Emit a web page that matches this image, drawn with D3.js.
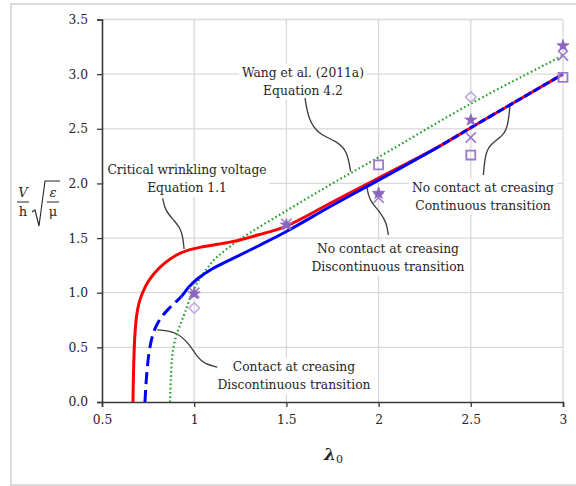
<!DOCTYPE html>
<html><head><meta charset="utf-8">
<script src="https://cdn.jsdelivr.net/npm/d3@7"></script>
<style>body{margin:0;background:#fff}svg{display:block}</style>
</head><body><svg id="c" width="576" height="486"></svg>
<script>
const xTicks=[0.5,1,1.5,2,2.5,3];
const yTicks=[0,0.5,1,1.5,2,2.5,3,3.5];
const redCurve=[[0.668,0],[0.670,0.2],[0.673,0.4],[0.678,0.6],[0.687,0.78],[0.70,0.9],[0.72,1.0],[0.75,1.1],[0.79,1.19],[0.84,1.27],[0.90,1.34],[0.96,1.385],[1.03,1.415],[1.1,1.435],[1.2,1.465],[1.35,1.53],[1.5,1.61],[1.75,1.83],[2,2.05],[2.33,2.34],[2.5,2.51],[3,3.0]];
const blueCurve=[[0.733,0],[0.738,0.15],[0.745,0.3],[0.755,0.45],[0.77,0.58],[0.79,0.68],[0.82,0.77],[0.86,0.85],[0.9,0.915],[0.93,0.965],[0.97,1.05],[1.02,1.13],[1.09,1.21],[1.2,1.305],[1.35,1.43],[1.5,1.56],[1.75,1.8],[2,2.03],[2.33,2.34],[2.5,2.51],[3,3.0]];
const blueBreaks=[0.93,2.33];
const greenCurve=[[0.869,0],[0.873,0.2],[0.88,0.4],[0.89,0.52],[0.905,0.62],[0.925,0.71],[0.95,0.82],[0.98,0.96],[1.013,1.08],[1.06,1.2],[1.12,1.32],[1.25,1.49],[1.5,1.75],[1.75,2.0],[2,2.24],[2.5,2.73],[3,3.17]];
const squarePts=[[2,2.17],[2.5,2.26],[3,2.97]];
const starPts=[[1,0.99],[1.5,1.62],[2,1.91],[2.5,2.58],[3,3.26]];
const crossPts=[[1,1.0],[1.5,1.63],[2,1.87],[2.5,2.42],[3,3.17]];
const diamondPts=[[1,0.86],[2.5,2.79]];
const noteText=[["Wang et al. (2011a)","Equation 4.2"],["Critical wrinkling voltage","Equation 1.1"],["No contact at creasing","Discontinuous transition"],["No contact at creasing","Continuous transition"],["Contact at creasing","Discontinuous transition"]];
const noteAnchor=[[1.59,3.01],[0.961,2.123],[2.051,1.40],[2.566,1.958],[1.541,0.32]];
const noteLeader=[
 [[1.601,2.78],[1.62,2.58],[1.675,2.45],[1.77,2.39],[1.83,2.3],[1.848,2.11]],
 [[0.829,1.864],[0.841,1.76],[0.884,1.67],[0.923,1.60],[0.939,1.51],[0.945,1.40]],
 [[2.053,1.528],[2.044,1.635],[2.008,1.741],[1.963,1.817],[1.944,1.894],[1.935,1.98]],
 [[2.568,2.077],[2.577,2.244],[2.595,2.336],[2.64,2.397],[2.685,2.458],[2.703,2.55],[2.713,2.72]],
 [[0.80,0.66],[0.907,0.645],[0.977,0.522],[1.015,0.412],[1.058,0.348],[1.125,0.32]]
];

const svg=d3.select("#c");
const L=102,R=563,T=19.5,B=402;
const x=d3.scaleLinear().domain([0.5,3]).range([L,R]);
const y=d3.scaleLinear().domain([0,3.5]).range([B,T]);
const serif="'DejaVu Serif', serif";

svg.append("rect").attr("x",11).attr("y",4).attr("width",620).attr("height",481)
  .attr("fill","#fff").attr("stroke","#dcdcdc").attr("stroke-width",2);

// clip regions for blue line styles
const defs=svg.append("defs");
const segs=[[0.4,blueBreaks[0]],[blueBreaks[0],blueBreaks[1]],[blueBreaks[1],3.2]];
segs.forEach((s,i)=>{
  defs.append("clipPath").attr("id","bc"+i).append("rect")
    .attr("x",x(s[0])).attr("y",0).attr("width",x(s[1])-x(s[0])).attr("height",486);
});

// grid
const g=svg.append("g");
g.selectAll(".hg").data(yTicks.slice(1)).join("line")
  .attr("x1",L).attr("x2",R).attr("y1",d=>y(d)).attr("y2",d=>y(d))
  .attr("stroke","#d9d9d9").attr("stroke-width",1.3);
g.selectAll(".vg").data(xTicks.slice(1)).join("line")
  .attr("x1",d=>x(d)).attr("x2",d=>x(d)).attr("y1",T).attr("y2",B)
  .attr("stroke","#d9d9d9").attr("stroke-width",1.3);

// annotation text boxes (white background, covering grid)
const notesG=svg.append("g");
const lineH=18;
noteText.forEach((lines,i)=>{
  const gg=notesG.append("g");
  const cx=x(noteAnchor[i][0]), cy=y(noteAnchor[i][1]);
  const t=gg.append("text").attr("font-family",serif).attr("font-size",12.3)
    .attr("fill","#262626").attr("text-anchor","middle");
  lines.forEach((s,j)=>t.append("tspan").attr("x",cx).attr("y",cy+4+j*lineH).text(s));
  const bb=t.node().getBBox();
  gg.insert("rect","text").attr("x",bb.x-3).attr("y",bb.y-2).attr("width",bb.width+6).attr("height",bb.height+4).attr("fill","#fff");
});

// leaders
const ll=d3.line().x(d=>x(d[0])).y(d=>y(d[1])).curve(d3.curveBasis);
svg.append("g").selectAll("path").data(noteLeader).join("path")
  .attr("d",ll).attr("fill","none").attr("stroke","#3a3a3a").attr("stroke-width",1.3);

// axes
const ax=svg.append("g").attr("transform",`translate(0,${B})`)
  .call(d3.axisBottom(x).tickValues(xTicks).tickSize(5).tickPadding(8).tickFormat(d=>String(d)));
const ay=svg.append("g").attr("transform",`translate(${L},0)`)
  .call(d3.axisLeft(y).tickValues(yTicks).tickSize(5).tickPadding(9).tickFormat(d3.format(".1f")));
[ax,ay].forEach(a=>{
  a.select(".domain").attr("stroke","#3a3a3a").attr("stroke-width",1.6);
  a.selectAll(".tick line").attr("stroke","#3a3a3a").attr("stroke-width",1.3);
  a.selectAll("text").attr("font-family",serif).attr("font-size",12.3).attr("fill","#262626");
});

// curves
const cl=d3.line().x(d=>x(d[0])).y(d=>y(d[1])).curve(d3.curveCatmullRom.alpha(0.5));
svg.append("path").datum(greenCurve).attr("d",cl).attr("fill","none")
  .attr("stroke","#22a022").attr("stroke-width",2.2).attr("stroke-dasharray","1.6,2.6");
svg.append("path").datum(redCurve).attr("d",cl).attr("fill","none")
  .attr("stroke","#ff0000").attr("stroke-width",3);
const blueDash=["12,6",null,"8,2.5"];
blueDash.forEach((da,i)=>{
  const p=svg.append("path").datum(blueCurve).attr("d",cl).attr("fill","none")
    .attr("stroke","#0000ff").attr("stroke-width",3).attr("clip-path",`url(#bc${i})`);
  if(da) p.attr("stroke-dasharray",da);
});

// markers
const pg=svg.append("g");
pg.selectAll(".sq").data(squarePts).join("path")
  .attr("transform",d=>`translate(${x(d[0])},${y(d[1])})`)
  .attr("d",d3.symbol(d3.symbolSquare,80)).attr("fill","#fff").attr("fill-opacity",0.3)
  .attr("stroke","#9b7bc8").attr("stroke-width",1.8);
pg.selectAll(".dm").data(diamondPts).join("path")
  .attr("transform",d=>`translate(${x(d[0])},${y(d[1])}) rotate(45)`)
  .attr("d",d3.symbol(d3.symbolSquare,55)).attr("fill","none")
  .attr("stroke","#bba8de").attr("stroke-width",1.5);
pg.selectAll(".cr").data(crossPts).join("path")
  .attr("transform",d=>`translate(${x(d[0])},${y(d[1])})`)
  .attr("d",d3.symbol(d3.symbolTimes||d3.symbolCross,70)).attr("fill","none")
  .attr("stroke","#9b7bc8").attr("stroke-width",1.6);
pg.selectAll(".st").data(starPts).join("path")
  .attr("transform",d=>`translate(${x(d[0])},${y(d[1])})`)
  .attr("d",d3.symbol(d3.symbolStar,45)).attr("fill","#8a64c0").attr("stroke","#8a64c0").attr("stroke-width",0.8);

// y-axis label: V/h sqrt(eps/mu)
const yl=svg.append("g").attr("font-family",serif).attr("fill","#262626");
yl.append("text").attr("x",23).attr("y",197).attr("text-anchor","middle").attr("font-size",13).attr("font-style","italic").text("V");
yl.append("line").attr("x1",17).attr("x2",29).attr("y1",202).attr("y2",202).attr("stroke","#262626").attr("stroke-width",1);
yl.append("text").attr("x",23).attr("y",216).attr("text-anchor","middle").attr("font-size",13).text("h");
yl.append("path").attr("d","M32,212 L35,210 L39,226 L45,181 L60,181").attr("fill","none").attr("stroke","#262626").attr("stroke-width",1.1);
yl.append("text").attr("x",53).attr("y",197).attr("text-anchor","middle").attr("font-size",13).attr("font-style","italic").text("ε");
yl.append("line").attr("x1",47).attr("x2",59).attr("y1",202).attr("y2",202).attr("stroke","#262626").attr("stroke-width",1);
yl.append("text").attr("x",53).attr("y",216).attr("text-anchor","middle").attr("font-size",13).text("μ");

// x-axis label
const xl=svg.append("text").attr("x",(L+R)/2+1).attr("y",460).attr("text-anchor","middle")
  .attr("font-family",serif).attr("fill","#262626");
xl.append("tspan").attr("font-size",17).attr("font-style","italic").attr("font-weight","bold").text("λ");
xl.append("tspan").attr("font-size",11).attr("dy",3).text("0");
</script></body></html>
